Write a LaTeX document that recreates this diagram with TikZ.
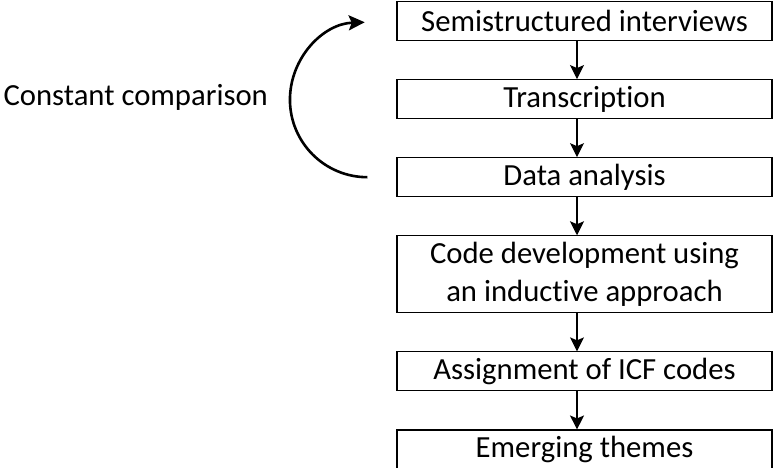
\documentclass[tikz,border=0pt]{standalone}
\usepackage{fontspec}
\setmainfont{Carlito}[RawFeature={-liga}]
\usetikzlibrary{positioning,arrows.meta}
\tikzset{
  stage/.style={draw,line width=1.1pt,minimum width=375pt,minimum height=39pt,
    inner sep=2pt,align=center,font=\fontsize{30.7}{38}\selectfont},
  flow/.style={line width=1.1pt,-{Stealth[length=14pt,width=14pt,inset=3pt]}},
  loop/.style={line width=2.6pt,-{Stealth[length=16pt,width=15pt,inset=3pt]}},
}
\begin{document}
\begin{tikzpicture}[node distance=38pt]
\useasboundingbox (0,0) rectangle (774pt,-467pt);
% stages of the analysis
\node[stage] (interviews) at (584.5pt,-21pt) {Semistructured interviews};
\node[stage,below=of interviews] (transcription) {Transcription};
\node[stage,below=of transcription] (analysis) {Data analysis};
\node[stage,minimum height=77pt,below=of analysis] (coding) {Code development using\\an inductive approach};
\node[stage,below=of coding] (icf) {Assignment of ICF codes};
\node[stage,below=of icf] (themes) {Emerging themes};
\foreach \a/\b in {interviews/transcription,transcription/analysis,analysis/coding,coding/icf,icf/themes}
  \draw[flow] ([xshift=-7.5pt]\a.south) -- ([xshift=-7.5pt]\b.north);
% feedback loop
\node[anchor=west,font=\fontsize{30.7}{38}\selectfont] (comparison) at (0pt,-97pt) {Constant comparison};
\draw[loop] ([xshift=-29pt]analysis.west) arc[start angle=270,end angle=92,radius=77.5pt];
\end{tikzpicture}
\end{document}
